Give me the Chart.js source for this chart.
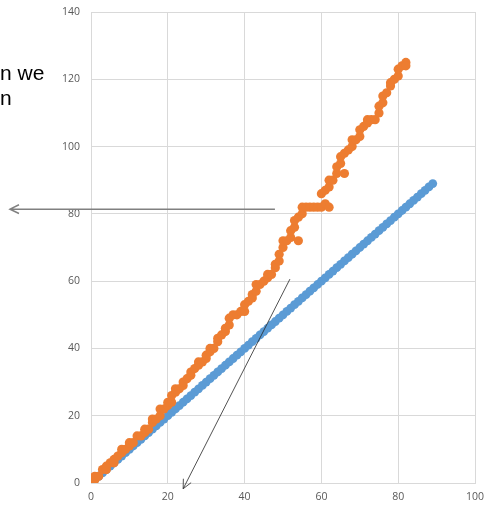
<!DOCTYPE html>
<html lang="en">
<head>
<meta charset="UTF-8">
<title>Scatter</title>
<script src="https://cdn.jsdelivr.net/npm/chart.js"></script>
<style>
    html, body { margin: 0; padding: 0; background: #fff; }
    #wrap { position: relative; width: 485px; height: 507px; overflow: hidden; }
    canvas { display: block; }
    #note {
        position: absolute; left: 0; top: 60px;
        font: 21px/25px "Liberation Sans", Arial, sans-serif;
        color: #000; white-space: pre;
    }
</style>
</head>
<body>
<div id="wrap">
    <canvas id="chart" width="485" height="507"></canvas>
    <div id="note">n we
n</div>
</div>
<script>
// orange series (stepped)
const orangeX = [0,1,1,2,3,4,4,5,6,6,7,8,8,9,10,10,11,12,13,14,14,15,16,16,17,18,18,19,20,20,
    21,21,22,22,23,24,24,25,26,26,27,28,28,29,30,30,31,31,32,33,33,34,35,35,36,36,37,38,39,40,
    40,41,42,42,43,43,44,45,46,46,47,48,48,49,49,50,50,51,52,52,53,53,54,54,55,55,56,57,58,59,
    60,60,61,62,61,62,62,63,64,64,65,65,66,66,67,68,68,69,70,70,71,72,72,73,74,75,75,76,76,77,
    78,78,79,80,80,81,82,82];
const orangeY = [0,1,2,2,4,4,5,6,6,7,8,9,10,10,11,12,12,14,14,15,16,16,18,19,19,20,22,22,23,24,
    24,26,27,28,28,29,30,31,32,33,34,35,36,36,37,38,39,40,40,42,43,44,45,46,47,49,50,50,51,51,
    53,54,55,56,57,59,59,60,61,62,62,64,65,66,68,70,72,72,73,75,76,78,79,72,80,82,82,82,82,82,
    82,86,83,82,87,88,90,90,92,94,95,97,92,98,99,100,102,102,103,105,106,107,108,108,108,110,112,113,115,116,
    118,119,120,121,123,124,125,124];

// blue series (one to one)
const blueX = [1,2,3,4,5,6,7,8,9,10,11,12,13,14,15,16,17,18,19,20,21,22,23,24,25,26,27,28,29,30,
    31,32,33,34,35,36,37,38,39,40,41,42,43,44,45,46,47,48,49,50,51,52,53,54,55,56,57,58,59,60,
    61,62,63,64,65,66,67,68,69,70,71,72,73,74,75,76,77,78,79,80,81,82,83,84,85,86,87,88,89];
const blueY = [1,2,3,4,5,6,7,8,9,10,11,12,13,14,15,16,17,18,19,20,21,22,23,24,25,26,27,28,29,30,
    31,32,33,34,35,36,37,38,39,40,41,42,43,44,45,46,47,48,49,50,51,52,53,54,55,56,57,58,59,60,
    61,62,63,64,65,66,67,68,69,70,71,72,73,74,75,76,77,78,79,80,81,82,83,84,85,86,87,88,89];

const xTicks = [0, 20, 40, 60, 80, 100];
const yTicks = [0, 20, 40, 60, 80, 100, 120, 140];

const toPoints = (xs, ys) => xs.map((x, i) => ({ x: x, y: ys[i] }));

// arrows drawn over the chart, in axis units
const arrows = [
    { from: [47.9, 81.4], to: [-21.1, 81.4], color: '#808080', width: 1.5 },
    { from: [51.8, 60.6], to: [24.0, -1.7], color: '#262626', width: 0.8 }
];

const arrowPlugin = {
    id: 'arrows',
    afterDraw(chart) {
        const ctx = chart.ctx, sx = chart.scales.x, sy = chart.scales.y;
        arrows.forEach(a => {
            const x1 = sx.getPixelForValue(a.from[0]), y1 = sy.getPixelForValue(a.from[1]);
            const x2 = sx.getPixelForValue(a.to[0]), y2 = sy.getPixelForValue(a.to[1]);
            const ang = Math.atan2(y2 - y1, x2 - x1);
            const len = 10, spread = 0.45;
            ctx.save();
            ctx.strokeStyle = a.color;
            ctx.lineWidth = a.width;
            ctx.beginPath();
            ctx.moveTo(x1, y1);
            ctx.lineTo(x2, y2);
            ctx.moveTo(x2 - len * Math.cos(ang - spread), y2 - len * Math.sin(ang - spread));
            ctx.lineTo(x2, y2);
            ctx.lineTo(x2 - len * Math.cos(ang + spread), y2 - len * Math.sin(ang + spread));
            ctx.stroke();
            ctx.restore();
        });
    }
};

const gridColor = '#d9d9d9';
const tickFont = { family: '"Open Sans", sans-serif', size: 10.5 };

new Chart(document.getElementById('chart'), {
    type: 'scatter',
    data: {
        datasets: [{
            data: toPoints(orangeX, orangeY),
            backgroundColor: '#ed7d31',
            borderWidth: 0,
            pointRadius: 4.6
        }, {
            data: toPoints(blueX, blueY),
            backgroundColor: '#5b9bd5',
            borderWidth: 0,
            pointRadius: 4.4
        }]
    },
    options: {
        responsive: false,
        animation: false,
        layout: { padding: { top: 12, right: 10, bottom: 0, left: 0 } },
        plugins: { legend: { display: false }, tooltip: { enabled: false } },
        scales: {
            x: {
                min: 0, max: 100,
                afterBuildTicks: s => { s.ticks = xTicks.map(v => ({ value: v })); },
                afterFit: s => { s.height = 24; s.paddingLeft = 0; s.paddingRight = 0; },
                grid: { color: gridColor, drawTicks: false },
                border: { color: gridColor },
                ticks: { color: '#595959', font: tickFont, padding: 8, maxRotation: 0 }
            },
            y: {
                min: 0, max: 140,
                afterBuildTicks: s => { s.ticks = yTicks.map(v => ({ value: v })); },
                afterFit: s => { s.width = 91; s.paddingTop = 0; s.paddingBottom = 0; },
                grid: { color: gridColor, drawTicks: false },
                border: { color: gridColor },
                ticks: { color: '#595959', font: tickFont, padding: 11 }
            }
        }
    },
    plugins: [arrowPlugin]
});
</script>
</body>
</html>
